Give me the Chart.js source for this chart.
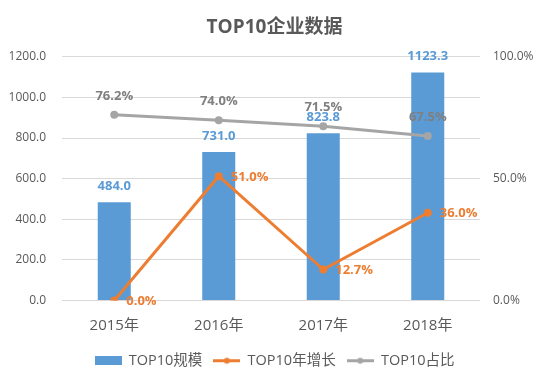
<!DOCTYPE html>
<html>
<head>
<meta charset="utf-8">
<script src="https://cdn.jsdelivr.net/npm/chart.js@4"></script>
<style>
  html, body { margin: 0; padding: 0; background: #fff; }
</style>
</head>
<body>
<canvas id="chart" width="541" height="378"></canvas>
<script>
// 数据
const years = ["2015年", "2016年", "2017年", "2018年"];
const scale = [484.0, 731.0, 823.8, 1123.3];        // TOP10规模
const growth = [0.0, 0.510, 0.127, 0.360];           // TOP10年增长
const share = [0.762, 0.740, 0.715, 0.675];          // TOP10占比

const FONT = "'Open Sans', 'Noto Sans CJK SC', sans-serif";
const BLUE = "#5B9BD5", ORANGE = "#ED7D31", GRAY = "#A5A5A5", TEXT = "#595959";

// 图例小图标
function legendIcon(color, isLine) {
    const c = document.createElement("canvas");
    c.width = 27; c.height = 9;
    const g = c.getContext("2d");
    g.fillStyle = color;
    g.strokeStyle = color;
    if (!isLine) {
        g.fillRect(0, 0, 27, 9);
    } else {
        g.lineWidth = 3;
        g.beginPath(); g.moveTo(0, 4.5); g.lineTo(27, 4.5); g.stroke();
        g.beginPath(); g.arc(13.5, 4.5, 3, 0, Math.PI * 2); g.fill();
    }
    return c;
}
const icons = [legendIcon(BLUE, false), legendIcon(ORANGE, true), legendIcon(GRAY, true)];

// 数据标签
const valueLabels = {
    id: "valueLabels",
    afterDatasetsDraw(chart) {
        const ctx = chart.ctx;
        ctx.save();
        ctx.font = "bold 13px " + FONT;
        ctx.textBaseline = "middle";
        chart.data.datasets.forEach((ds, i) => {
            const meta = chart.getDatasetMeta(i);
            meta.data.forEach((el, j) => {
                const v = ds.data[j];
                if (i === 0) {
                    ctx.fillStyle = BLUE;
                    ctx.textAlign = "center";
                    ctx.fillText(v.toFixed(1), el.x, el.y - 16);
                } else if (i === 1) {
                    ctx.fillStyle = ORANGE;
                    ctx.textAlign = "left";
                    ctx.fillText((v * 100).toFixed(1) + "%", el.x + 12, el.y + 1);
                } else {
                    ctx.fillStyle = "#7F7F7F";
                    ctx.textAlign = "center";
                    ctx.fillText((v * 100).toFixed(1) + "%", el.x, el.y - 19);
                }
            });
        });
        ctx.restore();
    }
};

new Chart(document.getElementById("chart"), {
    type: "bar",
    data: {
        labels: years,
        datasets: [{
            label: "TOP10规模",
            data: scale,
            backgroundColor: BLUE,
            yAxisID: "y",
            barPercentage: 0.316,
            categoryPercentage: 1,
            order: 3
        }, {
            type: "line",
            label: "TOP10年增长",
            data: growth,
            borderColor: ORANGE,
            backgroundColor: ORANGE,
            borderWidth: 3,
            pointRadius: 4,
            pointBorderWidth: 0,
            yAxisID: "y1",
            order: 1
        }, {
            type: "line",
            label: "TOP10占比",
            data: share,
            borderColor: GRAY,
            backgroundColor: GRAY,
            borderWidth: 3,
            pointRadius: 4,
            pointBorderWidth: 0,
            yAxisID: "y1",
            order: 2
        }]
    },
    options: {
        responsive: false,
        animation: false,
        layout: { padding: { left: 8, right: 0, top: 0, bottom: 0 } },
        plugins: {
            title: {
                display: true,
                text: "TOP10企业数据",
                color: TEXT,
                font: { family: FONT, size: 19, weight: "bold" },
                padding: { top: 16, bottom: 18 }
            },
            legend: {
                position: "bottom",
                labels: {
                    color: TEXT,
                    font: { family: FONT, size: 14.5 },
                    usePointStyle: true,
                    pointStyleWidth: 27,
                    padding: 11,
                    generateLabels(chart) {
                        const items = Chart.defaults.plugins.legend.labels.generateLabels(chart);
                        items.sort((a, b) => a.datasetIndex - b.datasetIndex);
                        items.forEach(it => { it.pointStyle = icons[it.datasetIndex]; });
                        return items;
                    }
                }
            },
            tooltip: { enabled: false }
        },
        scales: {
            x: {
                grid: { display: false },
                border: { display: false },
                ticks: { color: TEXT, font: { family: FONT, size: 15 }, padding: 8 }
            },
            y: {
                position: "left",
                min: 0,
                max: 1200,
                border: { display: false },
                grid: { color: "#D9D9D9", drawTicks: false },
                afterFit(s) { s.width = 54; },
                ticks: {
                    stepSize: 200,
                    color: TEXT,
                    padding: 16,
                    font: { family: FONT, size: 12 },
                    callback: v => v.toFixed(1)
                }
            },
            y1: {
                position: "right",
                min: 0,
                max: 1,
                border: { display: false },
                grid: { display: false, drawTicks: false },
                afterFit(s) { s.width = 61; },
                ticks: {
                    stepSize: 0.5,
                    color: TEXT,
                    padding: 13,
                    font: { family: FONT, size: 12 },
                    callback: v => (v * 100).toFixed(1) + "%"
                }
            }
        }
    },
    plugins: [valueLabels]
});
</script>
</body>
</html>
